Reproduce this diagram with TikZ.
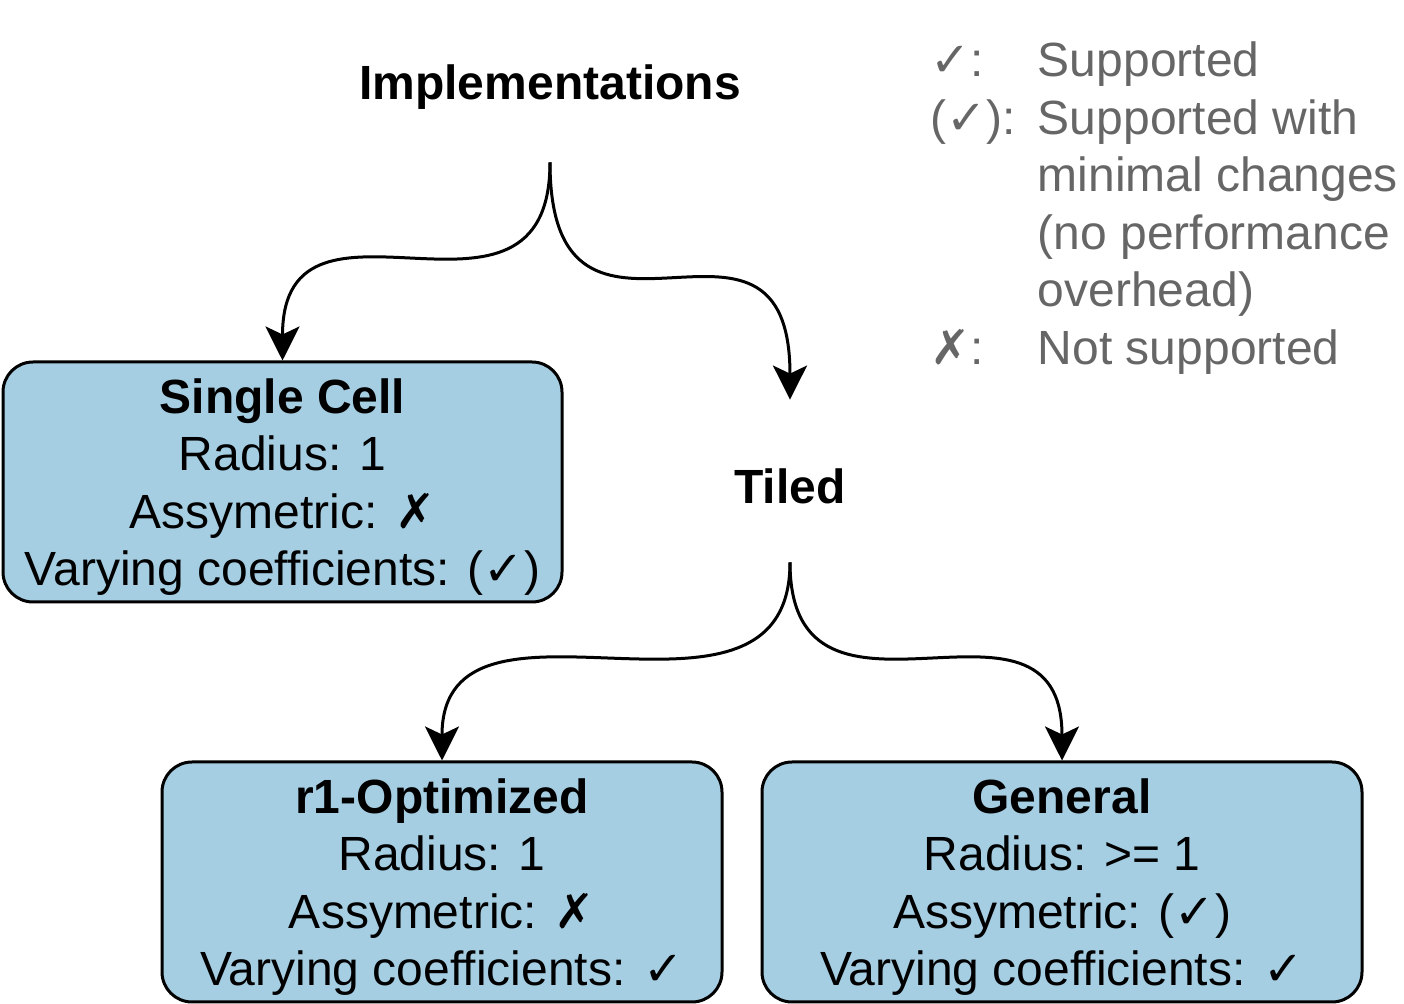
\documentclass[tikz,border=0pt]{standalone}
\usepackage{fontspec}
\setmainfont{Liberation Sans}
\newfontfamily\symfont{DejaVu Sans}
\usetikzlibrary{arrows.meta}

\newcommand{\cmark}{{\symfont ✓}}
\newcommand{\xmark}{{\symfont ✗}}
\newcommand{\topstrut}{\rule{0pt}{22.5pt}}

\definecolor{boxblue}{HTML}{A6CEE3}
\definecolor{legendgray}{HTML}{666666}

\tikzset{
  impl/.style={draw, fill=boxblue, line width=1.5pt, rounded corners=15pt, align=center,
    minimum height=120pt, inner sep=0pt, font=\fontsize{24}{28.8}\selectfont},
  head/.style={align=center, inner sep=0pt, font=\fontsize{24}{28.8}\selectfont\bfseries},
  branch/.style={-{Stealth[length=17pt, width=17pt, inset=4pt]}, line width=1.5pt}
}

\begin{document}
\begin{tikzpicture}[x=0.5pt, y=-0.5pt]
\useasboundingbox (0,0) rectangle (1404,1004);

\node[head, minimum height=80pt] (top) at (550,82) {\topstrut Implementations};
\node[head, minimum height=81pt] (tiled) at (790,481) {\topstrut Tiled};

\node[impl, minimum width=279.5pt] (single) at (282.5,482) {\topstrut\textbf{Single Cell}\\Radius: 1\\Assymetric: \xmark\\Varying coefficients: (\cmark)};
\node[impl, minimum width=280pt] (r1) at (442,882) {\topstrut\textbf{r1-Optimized}\\Radius: 1\\Assymetric: \xmark\\Varying coefficients: \cmark};
\node[impl, minimum width=300pt] (general) at (1062,882) {\topstrut\textbf{General}\\Radius: >= 1\\Assymetric: (\cmark)\\Varying coefficients: \cmark};

\draw[branch] (top.south) .. controls (top.south |- single.north) and (single.north |- top.south) .. (single.north);
\draw[branch] (top.south) .. controls (top.south |- tiled.north) and (tiled.north |- top.south) .. (tiled.north);
\draw[branch] (tiled.south) .. controls (tiled.south |- r1.north) and (r1.north |- tiled.south) .. (r1.north);
\draw[branch] (tiled.south) .. controls (tiled.south |- general.north) and (general.north |- tiled.south) .. (general.north);

% legend
\node[anchor=west, inner sep=0pt, text=legendgray, font=\fontsize{24}{28.8}\selectfont] (legend) at (930,209) {%
  \begin{tabular}{@{}l@{\hspace{11pt}}l@{}}
  \cmark: & Supported\\
  (\cmark): & Supported with\\
   & minimal changes\\
   & (no performance\\
   & overhead)\\
  \xmark: & Not supported
  \end{tabular}};
\end{tikzpicture}
\end{document}
